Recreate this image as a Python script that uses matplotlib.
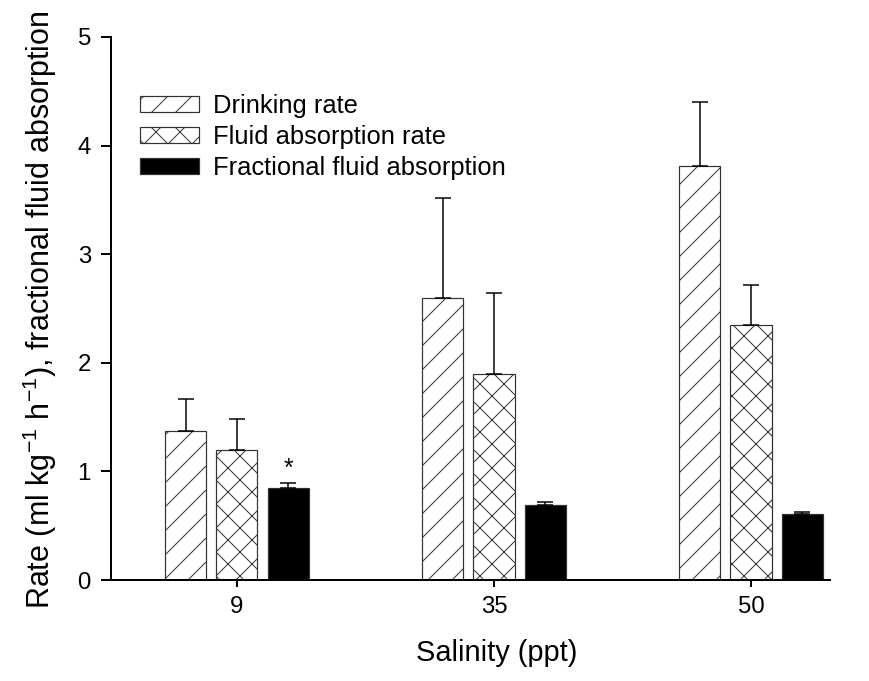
import numpy as np
import matplotlib.pyplot as plt

plt.rcParams['font.family'] = ['Liberation Sans', 'DejaVu Sans']
plt.rcParams['mathtext.default'] = 'regular'
plt.rcParams['hatch.linewidth'] = 1.0

salinity = ['9', '35', '50']
drinking = np.array([1.37, 2.60, 3.81])
drinking_err = np.array([0.30, 0.92, 0.59])
fluid = np.array([1.20, 1.90, 2.35])
fluid_err = np.array([0.28, 0.74, 0.37])
fractional = np.array([0.85, 0.69, 0.61])
fractional_err = np.array([0.04, 0.03, 0.02])

x = np.arange(len(salinity))
w = 0.16
off = 0.2

# dpi 72 so that sizes in points equal pixels
fig = plt.figure(figsize=(869 / 72, 681 / 72), dpi=72)
ax = fig.add_axes([0.1277, 0.1483, 0.8274, 0.7974])

ekw = dict(elinewidth=1.5, capthick=1.5, ecolor='black')
ax.bar(x - off, drinking, w, color='white', edgecolor='#333333', linewidth=1.2,
       hatch='/', label='Drinking rate',
       yerr=[np.zeros(3), drinking_err], capsize=8, error_kw=ekw)
ax.bar(x, fluid, w, color='white', edgecolor='#333333', linewidth=1.2,
       hatch='x', label='Fluid absorption rate',
       yerr=[np.zeros(3), fluid_err], capsize=8, error_kw=ekw)
ax.bar(x + off, fractional, w, color='black', edgecolor='#333333', linewidth=1.2,
       label='Fractional fluid absorption',
       yerr=[np.zeros(3), fractional_err], capsize=8, error_kw=ekw)

# significance mark
ax.text(x[0] + off, fractional[0] + fractional_err[0] + 0.02, '*',
        ha='center', va='bottom', fontsize=25)

ax.set_xlim(-0.49, 2.307)
ax.set_ylim(0, 5)
ax.set_xticks(x)
ax.set_xticklabels(salinity)
ax.set_yticks(range(6))
ax.tick_params(labelsize=24, width=2, direction='out')
ax.tick_params(axis='y', length=10, pad=10)
ax.tick_params(axis='x', length=7, pad=9)
ax.spines['top'].set_visible(False)
ax.spines['right'].set_visible(False)
ax.spines['left'].set_linewidth(2)
ax.spines['bottom'].set_linewidth(2)

ax.set_xlabel('Salinity (ppt)', fontsize=29)
ax.xaxis.set_label_coords(0.537, -0.108)
ax.set_ylabel('Rate (ml kg$^{-1}$ h$^{-1}$), fractional fluid absorption',
              fontsize=30.5)
ax.yaxis.set_label_coords(-0.072, 0.497)

ax.legend(loc='upper left', bbox_to_anchor=(0.161, 0.862),
          bbox_transform=fig.transFigure, frameon=False, fontsize=25.5,
          handlelength=2.3, handleheight=0.6, handletextpad=0.55,
          labelspacing=0.28, borderaxespad=0, borderpad=0)

fig.savefig('out.png', dpi=72)
